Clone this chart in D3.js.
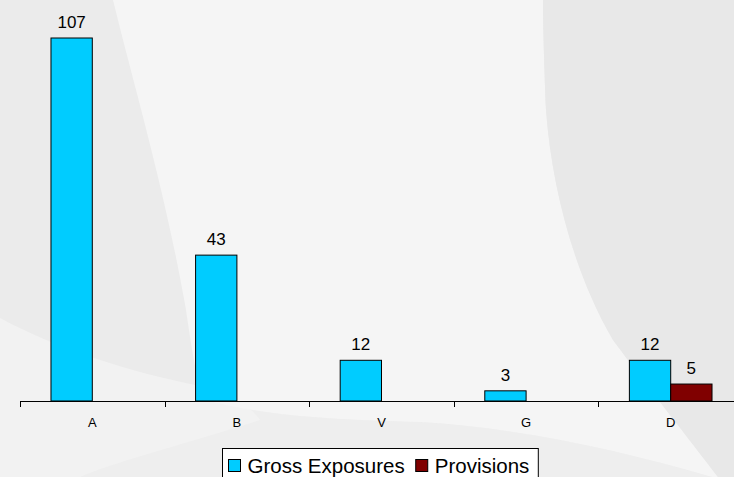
<!DOCTYPE html>
<html>
<head>
<meta charset="utf-8">
<script src="https://cdn.jsdelivr.net/npm/d3@7"></script>
<style>
  html, body { margin: 0; padding: 0; background: #ebebeb; }
  svg { display: block; }
  text { font-family: "Liberation Sans", Arial, sans-serif; fill: #000; }
</style>
</head>
<body>
<svg id="chart" width="734" height="477"></svg>
<script>
// Chart data
const categories = ["A", "B", "V", "G", "D"];
const seriesNames = ["Gross Exposures", "Provisions"];
const grossExposures = [107, 43, 12, 3, 12];
const provisions = [null, null, null, null, 5];
const seriesColors = ["#00ccff", "#800000"];

const W = 734, H = 477;
const svg = d3.select("#chart");

// Soft grey backdrop with curved lighter bands
const bg = svg.append("g");
bg.append("rect").attr("width", W).attr("height", H).attr("fill", "#ebebeb");
bg.append("path")
  .attr("fill", "#eeeeee")
  .attr("d", "M205,400 C260,415 330,420 420,422 C520,428 620,450 712,477 L0,477 L0,400 Z");
bg.append("path")
  .attr("fill", "#f2f2f2")
  .attr("d", "M0,318 C60,350 130,372 200,386 C230,395 250,405 260,420 C200,440 120,460 80,477 L0,477 Z");
bg.append("path")
  .attr("fill", "#f5f5f5")
  .attr("d", "M113,0 C135,90 165,190 186,310 C192,350 196,380 205,400 " +
             "C260,415 330,420 420,422 C520,428 620,450 712,477 " +
             "L718,477 C690,440 650,390 613,340 C575,275 552,190 546,110 C544,60 543,20 543,0 Z");
bg.append("path")
  .attr("fill", "#e8e8e8")
  .attr("d", "M543,0 C543,20 544,60 546,110 C552,190 575,275 613,340 C650,390 690,440 718,477 L734,477 L734,0 Z");

// Scales
const baseY = 401;
const x = d3.scaleBand().domain(categories).range([20, 743]).paddingInner(0).paddingOuter(0);
const bw = x.bandwidth();
const edge = bw * 0.75 / 3.5;
const x1 = d3.scaleBand().domain(seriesNames).range([edge, bw - edge]).padding(0);
const y = d3.scaleLinear().domain([0, d3.max(grossExposures)]).range([baseY, 38]);

const rows = categories.map((c, i) => ({
  cat: c,
  values: [
    { s: seriesNames[0], v: grossExposures[i], color: seriesColors[0] },
    { s: seriesNames[1], v: provisions[i], color: seriesColors[1] }
  ].filter(d => d.v != null)
}));

// Bars
const groups = svg.append("g").selectAll("g").data(rows).join("g")
  .attr("transform", d => `translate(${x(d.cat)},0)`);

groups.selectAll("rect").data(d => d.values).join("rect")
  .attr("x", d => x1(d.s))
  .attr("y", d => y(d.v))
  .attr("width", x1.bandwidth())
  .attr("height", d => baseY - y(d.v))
  .attr("fill", d => d.color)
  .attr("stroke", "#000")
  .attr("stroke-width", 1);

// Value labels
groups.selectAll("text").data(d => d.values).join("text")
  .attr("x", d => x1(d.s) + x1.bandwidth() / 2)
  .attr("y", d => y(d.v) - 10)
  .attr("text-anchor", "middle")
  .attr("font-size", 17)
  .text(d => d.v);

// Category axis: baseline with ticks at band edges
const axis = svg.append("g");
axis.append("line")
  .attr("x1", x.range()[0]).attr("x2", W)
  .attr("y1", baseY + 0.5).attr("y2", baseY + 0.5)
  .attr("stroke", "#000").attr("stroke-width", 1);
const tickPos = categories.map(c => x(c)).concat([x.range()[1]]);
axis.selectAll(".tick").data(tickPos).join("line")
  .attr("class", "tick")
  .attr("x1", d => Math.round(d) + 0.5).attr("x2", d => Math.round(d) + 0.5)
  .attr("y1", baseY).attr("y2", baseY + 6)
  .attr("stroke", "#000").attr("stroke-width", 1);
axis.selectAll(".lbl").data(categories).join("text")
  .attr("class", "lbl")
  .attr("x", d => x(d) + bw / 2)
  .attr("y", 427)
  .attr("text-anchor", "middle")
  .attr("font-size", 13)
  .text(d => d);

// Legend
const legend = svg.append("g");
const box = legend.append("rect")
  .attr("x", 222.5).attr("y", 448.5).attr("height", 40)
  .attr("fill", "#fff").attr("stroke", "#000").attr("stroke-width", 1);
let cx = 228.5;
seriesNames.forEach((name, i) => {
  legend.append("rect")
    .attr("x", cx).attr("y", 459.5).attr("width", 12).attr("height", 12)
    .attr("fill", seriesColors[i]).attr("stroke", "#000").attr("stroke-width", 1);
  const t = legend.append("text")
    .attr("x", cx + 19).attr("y", 472.5)
    .attr("font-size", 20.5)
    .text(name);
  cx = cx + 19 + t.node().getComputedTextLength() + 11;
});
box.attr("width", cx - 222.5 - 2);
</script>
</body>
</html>
